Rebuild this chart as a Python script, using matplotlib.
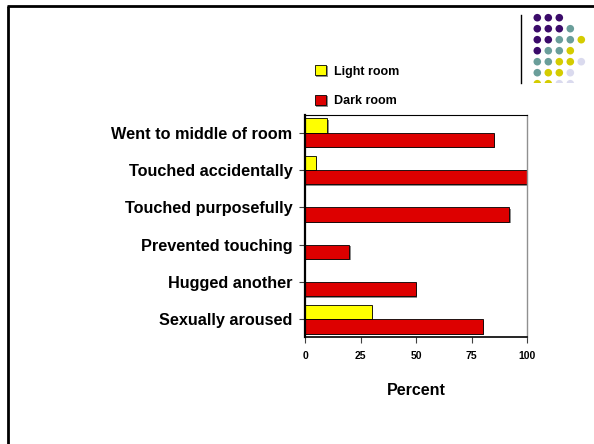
import matplotlib
matplotlib.use("Agg")
import matplotlib.pyplot as plt
import matplotlib.patheffects as pe
from matplotlib.lines import Line2D
import numpy as np

plt.rcParams['font.family'] = ['Liberation Sans', 'DejaVu Sans']
plt.rcParams['font.weight'] = 'bold'

categories = ["Went to middle of room", "Touched accidentally", "Touched purposefully",
              "Prevented touching", "Hugged another", "Sexually aroused"]
light_room = [10, 5, 0, 0, 0, 30]
dark_room = [85, 100, 92, 20, 50, 80]
series_names = ["Light room", "Dark room"]
x_ticks = [0, 25, 50, 75, 100]
x_label = "Percent"

W, H = 594, 444
fig = plt.figure(figsize=(W / 100, H / 100), dpi=100)

# slide frame (top and left rules)
fig.add_artist(Line2D([7 / W, 1], [1 - 6 / H, 1 - 6 / H], color='black', lw=2.0,
                      transform=fig.transFigure, solid_capstyle='butt'))
fig.add_artist(Line2D([8 / W, 8 / W], [0, 1 - 6 / H], color='black', lw=2.0,
                      transform=fig.transFigure, solid_capstyle='butt'))

# decorative dot pattern
fig.add_artist(Line2D([521 / W, 521 / W], [1 - 15 / H, 1 - 83 / H], color='black', lw=1.0,
                      transform=fig.transFigure))
dax = fig.add_axes([530 / W, 1 - 83 / H, 60 / W, 73 / H])
dax.set_xlim(530, 590)
dax.set_ylim(83, 10)
dax.axis('off')
pal = {'P': '#3B0B6A', 'T': '#6A9E9A', 'Y': '#D4CC00', 'L': '#DADAEE'}
pattern = ["PPP", "PPPT", "PPTTY", "PTTY", "TTYYL", "TYYL", "YYLL"]
xs, ys, cs = [], [], []
for r, row in enumerate(pattern):
    for c, ch in enumerate(row):
        xs.append(537.3 + c * 11.0)
        ys.append(17.7 + r * 11.0)
        cs.append(pal[ch])
dax.scatter(xs, ys, s=30, c=cs, linewidths=0, clip_on=True)

# main chart
ax = fig.add_axes([305 / W, 1 - 337 / H, 222 / W, 222 / H])
y = np.arange(len(categories))
bh = 0.385
shadow = [pe.SimplePatchShadow(offset=(1.0, -1.0), shadow_rgbFace='#808080', alpha=0.9), pe.Normal()]
b1 = ax.barh(y - bh / 2, light_room, height=bh, color='#FFFF00', edgecolor='black',
             linewidth=0.6, label=series_names[0], zorder=2)
b2 = ax.barh(y + bh / 2, dark_room, height=bh, color='#DD0000', edgecolor='black',
             linewidth=0.6, label=series_names[1], zorder=2)
for b in list(b1) + list(b2):
    b.set_path_effects(shadow)

ax.set_xlim(0, 100)
ax.set_ylim(5.47, -0.47)
ax.set_yticks(y)
ax.set_yticklabels(categories, fontsize=11.7, fontweight='bold')
ax.set_xticks(x_ticks)
ax.set_xticklabels([str(t) for t in x_ticks], fontsize=7.5, fontweight='bold')
ax.tick_params(axis='y', length=4, width=0.8, color='#404040', pad=5)
ax.tick_params(axis='x', length=4, width=0.8, color='#404040', pad=6)
ax.set_xlabel(x_label, fontsize=11.5, fontweight='bold', labelpad=16)

ax.spines['left'].set_linewidth(1.6)
ax.spines['left'].set_color('black')
ax.spines['bottom'].set_linewidth(1.2)
ax.spines['bottom'].set_color('black')
ax.spines['top'].set_linewidth(0.8)
ax.spines['top'].set_color('black')
ax.spines['right'].set_linewidth(1.0)
ax.spines['right'].set_color('#909090')

leg = fig.legend(handles=[b1, b2], labels=series_names, loc='upper left',
                 bbox_to_anchor=(315 / W, 1 - 65 / H), frameon=False,
                 prop={'size': 9, 'weight': 'bold'}, handlelength=0.9, handleheight=0.9,
                 handletextpad=0.6, labelspacing=1.4, borderpad=0, borderaxespad=0)
for h in leg.legend_handles:
    h.set_path_effects(shadow)

fig.savefig("out.png", dpi=100, facecolor='white')
